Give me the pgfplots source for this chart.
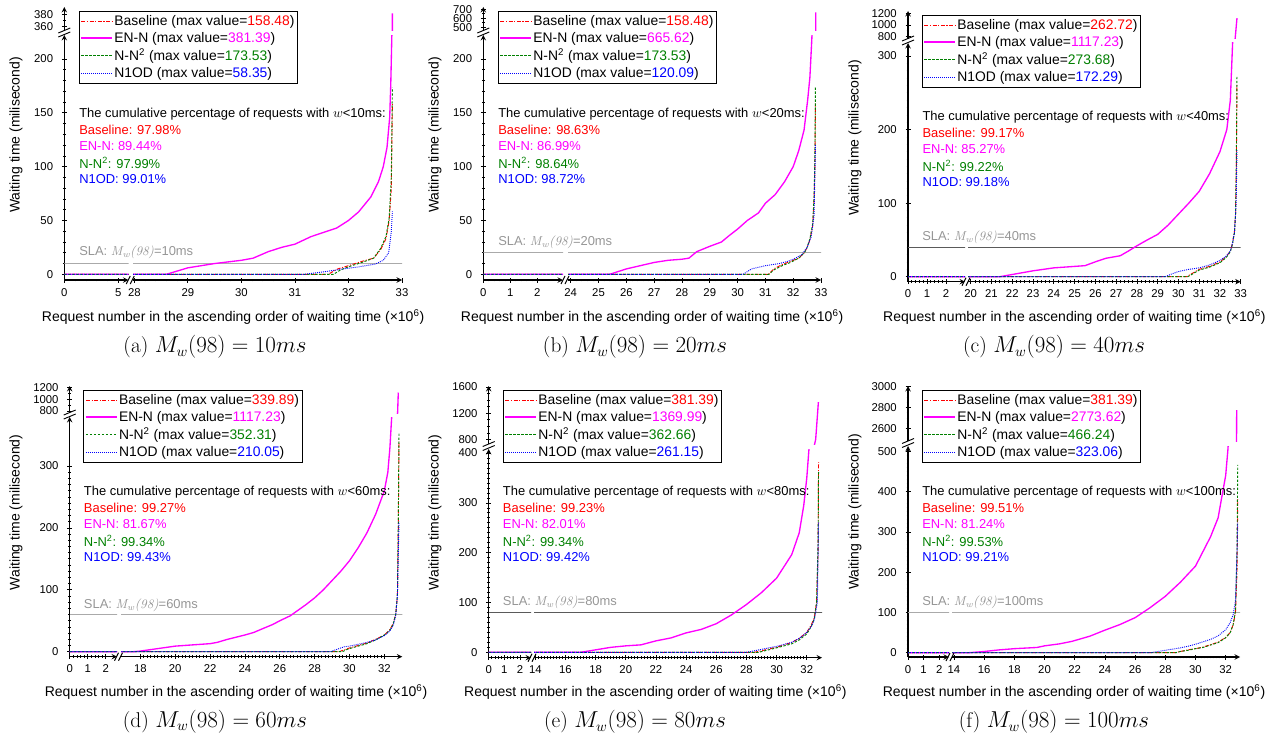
\documentclass[border=0pt]{standalone}
\usepackage[no-math]{fontspec}
\usepackage{pgfplots}
\usepackage{pgfplotstable}
\pgfplotsset{compat=1.18}
\newfontfamily\arial{Liberation Sans}
\newcommand\legfont{\arial\fontsize{10.4}{12}\selectfont}
\newcommand\annfont{\arial\fontsize{9.7}{11.5}\selectfont}
\newcommand\labfont{\arial\fontsize{10.5}{12}\selectfont}
\definecolor{cBase}{RGB}{255,0,0}
\definecolor{cEnn}{RGB}{255,0,255}
\definecolor{cNn}{RGB}{0,128,0}
\definecolor{cNod}{RGB}{0,0,255}
\definecolor{slaLight}{RGB}{170,170,170}
\definecolor{slaDark}{RGB}{90,90,90}
\definecolor{slaText}{RGB}{150,150,150}

\tikzset{
  lgbase/.style={draw=cBase, line width=0.8pt, dash pattern=on 3pt off 1.2pt on 0.8pt off 1.2pt},
  lgenn/.style={draw=cEnn, line width=1.1pt},
  lgnn/.style={draw=cNn, line width=0.8pt, dash pattern=on 1.8pt off 1.2pt},
  lgnod/.style={draw=cNod, line width=0.8pt, dash pattern=on 0.7pt off 0.8pt},
}
\pgfplotsset{
  basest/.style={color=cBase, draw=cBase, line width=0.7pt, dash pattern=on 3pt off 1.2pt on 0.8pt off 1.2pt},
  ennst/.style={color=cEnn, draw=cEnn, line width=1.0pt},
  nnst/.style={color=cNn, draw=cNn, line width=0.7pt, dash pattern=on 1.8pt off 1.2pt},
  nodst/.style={color=cNod, draw=cNod, line width=0.7pt, dash pattern=on 0.7pt off 0.8pt},
  brk/.style={scale only axis, anchor=south west, enlargelimits=false,
    axis line style={-, line width=0.8pt, black},
    tick align=outside, major tick length=3.75pt, minor tick length=2.2pt,
    tick style={black, line width=0.55pt},
    tick label style={font=\arial\fontsize{8.5}{10}\selectfont},
    xticklabel style={yshift=-0.8pt},
    yticklabel style={xshift=-3pt},
    /pgf/number format/assume math mode=true,
    /pgf/number format/1000 sep={},
  },
  legend image code/.code={\draw[#1] (0pt,0pt) -- (23pt,0pt);},
}

\pgfplotstableread{
x y
0 0
31.62 0
31.8 5
32.0 8
32.25 12
32.47 15
32.6 23
32.7 33
32.76 50
32.8 80
32.82 158.48
}\dataAbase
\pgfplotstableread{
x y
0 0
28.6 0
28.8 3
29.0 6
29.5 10
30.0 13
30.22 15
30.5 21
30.75 25
31.0 28
31.3 35
31.6 40
31.78 43
32.0 50
32.19 58
32.42 72
32.56 86
32.65 100
32.72 118
32.77 146
32.79 177
32.81 222
32.82 352
32.82 381.39
}\dataAenn
\pgfplotstableread{
x y
0 0
31.72 0
31.85 4
32.0 7
32.25 11
32.47 15
32.6 24
32.7 35
32.76 52
32.8 90
32.82 173.53
}\dataAnn
\pgfplotstableread{
x y
0 0
31.18 0
31.5 2
31.9 5
32.2 7
32.5 9.5
32.65 13
32.75 20
32.8 40
32.82 58.35
}\dataAnod
\pgfplotstableread{
x y
0 0
31.11 0
31.3 5
31.6 9
31.9 12
32.2 15
32.4 20
32.5 25
32.6 32
32.7 45
32.75 70
32.78 100
32.8 158.48
}\dataBbase
\pgfplotstableread{
x y
0 0
25.4 0
26.0 5
26.5 8
27.0 11
27.5 13
28.0 14
28.25 15
28.53 21
29.0 26
29.42 30
29.7 36
30.0 42
30.35 50
30.75 57
31.0 66
31.35 74
31.69 86
32.0 100
32.2 115
32.39 134
32.52 162
32.6 183
32.67 219
32.7 240
32.81 459
32.81 665.62
}\dataBenn
\pgfplotstableread{
x y
0 0
31.13 0
31.3 4
31.6 8
31.9 11
32.2 15
32.4 20
32.5 25
32.6 33
32.7 47
32.75 72
32.78 110
32.8 173.53
}\dataBnn
\pgfplotstableread{
x y
0 0
30.2 0
30.5 5
31.0 8
31.5 10
31.8 12
32.0 14
32.3 18
32.5 25
32.65 35
32.75 55
32.8 120.09
}\dataBnod
\pgfplotstableread{
x y
0 0
30.4 0
30.7 5
31 10
31.5 14
32 20
32.3 27
32.5 35
32.6 45
32.7 62
32.75 85
32.79 150
32.82 262.72
}\dataCbase
\pgfplotstableread{
x y
0 0
21.4 0
22 3
23 8
24 12
25 14
25.5 15
25.98 20
26.5 25
27.2 28.5
27.6 35
28 42
28.5 50
29 57.5
29.5 70
30 85
30.5 100
31 116
31.5 140
32 170
32.33 200
32.5 240
32.61 318
32.66 360
32.73 760
32.82 1117.23
}\dataCenn
\pgfplotstableread{
x y
0 0
30.45 0
30.7 4
31 9
31.5 13
32 19
32.3 26
32.5 34
32.6 44
32.7 60
32.75 85
32.79 160
32.82 273.68
}\dataCnn
\pgfplotstableread{
x y
0 0
29.36 0
29.7 4
30 7
30.5 10
31 12
31.5 16
32 22
32.3 28
32.5 35
32.6 45
32.7 60
32.78 100
32.82 172.29
}\dataCnod
\pgfplotstableread{
x y
0 0
29.4 0
29.7 3
30 6
30.5 10
31 14
31.5 20
32 27
32.3 35
32.5 45
32.65 60
32.75 90
32.8 200
32.84 339.89
}\dataDbase
\pgfplotstableread{
x y
0 0
17.6 0
18 1
19 5
20 9
21 11
22 13
22.4 15
23 20
24 27
24.5 31
25 37
25.6 44
26 50
26.6 58
27 66
27.5 76
28 87
28.5 100
29 115
29.5 130
30 147
30.5 168
31 192
31.5 222
32 260
32.2 290
32.32 330
32.42 379
32.45 395
32.76 766
32.8 1117.23
}\dataDenn
\pgfplotstableread{
x y
0 0
29.6 0
29.8 3
30 5
30.5 9
31 13
31.5 19
32 27
32.3 34
32.5 44
32.65 60
32.75 92
32.8 210
32.84 352.31
}\dataDnn
\pgfplotstableread{
x y
0 0
28.9 0
29.3 4
29.7 8
30 9
30.5 12
31 15
31.5 19
32 26
32.3 33
32.5 42
32.65 58
32.75 90
32.84 210.05
}\dataDnod
\pgfplotstableread{
x y
0 0
28.5 0
29 3
29.5 7
30 10
30.5 15
31 20
31.5 28
32 40
32.3 55
32.5 70
32.65 100
32.75 200
32.78 381.39
}\dataEbase
\pgfplotstableread{
x y
0 0
17 0
18 5
19 10
20 13
21 15
22 23
23 29
24 39
25 46
26 57.5
27 75
28 96
29 120
30 149
31 196
31.5 240
31.8 295
32.0 350
32.15 410
32.25 460
32.59 800
32.77 1369.99
}\dataEenn
\pgfplotstableread{
x y
0 0
28.8 0
29.2 3
30 9
30.5 13
31 17
31.5 25
32 37
32.3 52
32.5 68
32.65 100
32.75 220
32.78 362.66
}\dataEnn
\pgfplotstableread{
x y
0 0
28 0
28.5 3
29 6
29.5 9
30 12
30.5 16
31 20
31.5 28
32 40
32.3 52
32.5 65
32.7 100
32.78 261.15
}\dataEnod
\pgfplotstableread{
x y
0 0
28.67 0
29 3
29.5 7
30 10
30.5 14
31 20
31.5 26
32 38
32.3 50
32.5 70
32.65 100
32.75 200
32.8 381.39
}\dataFbase
\pgfplotstableread{
x y
0 0
15 0
16 3
17 7
18 10
19.5 13
20 17
21 22
21.8 28
23 41
24 56
25 70
26 87
27 112
28 140
29 175
30 215
31 288
31.5 335
31.75 388
32 440
32.15 505
32.2 540
32.72 2478
32.73 2773.62
}\dataFenn
\pgfplotstableread{
x y
0 0
28.7 0
29 3
29.5 6
30 10
30.5 13
31 19
31.5 25
32 37
32.3 50
32.5 70
32.65 105
32.75 250
32.8 466.24
}\dataFnn
\pgfplotstableread{
x y
0 0
27 0
27.5 3
28 6
28.5 9
29 12
29.5 16
30 21
30.5 27
31 33
31.5 42
32 57
32.3 75
32.5 95
32.65 130
32.75 250
32.8 323.06
}\dataFnod

\newcommand\plotT[2]{\expandafter\plotTi\csname data#2\endcsname{#1}}
\newcommand\plotTi[2]{\addplot[#2] table[x index=0,y index=1] {#1};}

\newcommand\Panel{%
  \pgfmathsetmacro\Lw{(\qLR-\qPX)*0.75}%
  \pgfmathsetmacro\Rw{(\qRR-\qRL)*0.75}%
  \pgfmathsetmacro\Hh{(\qPB-\qYT)*0.75}%
  \pgfmathsetmacro\Uw{(\qRR-\qPX)*0.75}%
  \pgfmathsetmacro\Uh{(\qUB-\qUT)*0.75}%
  \pgfmathsetmacro\Uxmin{\qRxMin-(\qRL-\qPX)*(\qRxMax-\qRxMin)/(\qRR-\qRL)}%
  \pgfmathsetmacro\legx{(\qLegX-\qRL)/(\qRR-\qRL)}%
  \pgfmathsetmacro\legy{(\qPB-\qLegY)/(\qPB-\qYT)}%
  \pgfmathsetmacro\axL{\qPX*0.75}%
  \pgfmathsetmacro\axR{\qRL*0.75}%
  \pgfmathsetmacro\axB{-\qPB*0.75}%
  \pgfmathsetmacro\axU{-\qUB*0.75}%
  \begin{axis}[brk, at={(\axL pt,\axB pt)}, width=\Lw pt, height=\Hh pt,
      xmin=0, xmax=\qLxMax, ymin=\qymn, ymax=\qymx,
      axis x line=bottom, axis y line=left, Lst]
    \addplot[color=\qslacol, line width=0.8pt, forget plot] coordinates {(0,\qSLA) (40,\qSLA)};
    \plotT{basest}{\qID base}
    \plotT{ennst}{\qID enn}
    \plotT{nnst}{\qID nn}
    \plotT{nodst}{\qID nod}
  \end{axis}
  \begin{axis}[brk, at={(\axL pt,\axU pt)}, width=\Uw pt, height=\Uh pt,
      xmin=\Uxmin, xmax=\qRxMax, ymin=\quymn, ymax=\quymx,
      axis x line=none, axis y line=left, xtick=\empty, Ust]
    \plotT{basest}{\qID base}
    \plotT{ennst}{\qID enn}
    \plotT{nnst}{\qID nn}
    \plotT{nodst}{\qID nod}
  \end{axis}
  \begin{axis}[brk, at={(\axR pt,\axB pt)}, width=\Rw pt, height=\Hh pt,
      xmin=\qRxMin, xmax=\qRxMax, ymin=\qymn, ymax=\qymx,
      axis x line=bottom, axis y line=none, ytick=\empty, Rst,
      legend cell align=left,
      legend style={at={(\legx,\legy)}, anchor=north west, draw=black, line width=0.8pt,
        fill=white, font=\legfont, inner xsep=1pt, inner ysep=1.5pt, row sep=1pt,
        nodes={inner xsep=1.3pt, inner ysep=1.3pt}}]
    \addplot[color=\qslacol, line width=0.8pt, forget plot] coordinates {(0,\qSLA) (40,\qSLA)};
    \addlegendimage{lgbase}
    \addlegendentry{\legfont Baseline (max value=\textcolor{cBase}{\qLegA})}
    \addlegendimage{lgenn}
    \addlegendentry{\legfont EN-N (max value=\textcolor{cEnn}{\qLegB})}
    \addlegendimage{lgnn}
    \addlegendentry{\legfont N-N\textsuperscript{2} (max value=\textcolor{cNn}{\qLegC})}
    \addlegendimage{lgnod}
    \addlegendentry{\legfont N1OD (max value=\textcolor{cNod}{\qLegD})}
    \plotT{basest, forget plot}{\qID base}
    \plotT{ennst, forget plot}{\qID enn}
    \plotT{nnst, forget plot}{\qID nn}
    \plotT{nodst, forget plot}{\qID nod}
  \end{axis}
  \begin{scope}[x=0.75pt,y=-0.75pt]
    \pgfmathsetmacro\ybm{(\qUB+\qYT)/2}%
    \pgfmathsetmacro\xbm{(\qLR+\qRL)/2}%
    \draw[line width=0.7pt] (\qPX-6,\ybm) -- (\qPX+6,\ybm-5);
    \draw[line width=0.7pt] (\qPX-6,\ybm+4) -- (\qPX+6,\ybm-1);
    \draw[line width=0.7pt] (\xbm-4.5,\qPB+4) -- (\xbm-0.5,\qPB-4);
    \draw[line width=0.7pt] (\xbm-0.5,\qPB+4) -- (\xbm+3.5,\qPB-4);
    \node[anchor=west, inner sep=0pt] at (\qAnX,\qAnY) {\annfont The cumulative percentage of requests with $w$<\qW ms:};
    \node[anchor=west, inner sep=0pt, text=cBase] at (\qAnX,\qAnY+16.2) {\annfont Baseline: \qPcA\%};
    \node[anchor=west, inner sep=0pt, text=cEnn] at (\qAnX,\qAnY+32.4) {\annfont EN-N: \qPcB\%};
    \node[anchor=west, inner sep=0pt, text=cNn] at (\qAnX,\qAnY+48.8) {\annfont N-N\textsuperscript{2}: \qPcC\%};
    \node[anchor=west, inner sep=0pt, text=cNod] at (\qAnX,\qAnY+65) {\annfont N1OD: \qPcD\%};
    \node[anchor=west, inner sep=0pt, text=slaText] at (\qSlX,\qSlY) {\annfont SLA: {\rmfamily\itshape M\textsubscript{w}(98)}=\qW ms};
    \node at ({(\qPX+\qRR)/2},\qXLy) {\labfont Request number in the ascending order of waiting time (×10\textsuperscript{6})};
    \node[rotate=90] at (\qYLx,\qYLy) {\labfont Waiting time (milisecond)};
    \node at (\qCapX,\qCapY) {\fontsize{16}{19}\selectfont\qCap\ $M_w(98) = \qW ms$};
  \end{scope}
}

\begin{document}
\begin{tikzpicture}
\begin{scope}[x=0.75pt,y=-0.75pt]
\useasboundingbox (0,0) rectangle (1273,735);
\end{scope}

\def\qID{A}
\def\qPX{64.3}\def\qPB{280}\def\qLR{128.5}\def\qRL{133}\def\qRR{402}
\def\qLxMax{5.95}\def\qRxMin{27.976}\def\qRxMax{33}
\def\qYT{35}\def\qymn{-5.3}\def\qymx{222.3}
\def\qUB{31}\def\qUT{7}\def\quymn{352.2}\def\quymx{392.2}
\def\qSLA{10}\def\qW{10}\def\qslacol{slaLight}
\def\qLegX{78.7}\def\qLegY{11}
\def\qLegA{158.48}\def\qLegB{381.39}\def\qLegC{173.53}\def\qLegD{58.35}
\def\qAnX{79}\def\qAnY{114}
\def\qPcA{97.98}\def\qPcB{89.44}\def\qPcC{97.99}\def\qPcD{99.01}
\def\qSlX{79}\def\qSlY{252.3}
\def\qXLy{316.7}\def\qYLx{16}\def\qYLy{135}
\def\qCapX{215}\def\qCapY{347}\def\qCap{(a)}
\pgfplotsset{Lst/.style={xtick={0,5}, minor x tick num=4, ytick={0,50,...,200}, minor y tick num=4},
  Rst/.style={xtick={28,...,33}, minor x tick num=4},
  Ust/.style={ytick={360,380}, minor y tick num=1}}
\Panel

\def\qID{B}
\def\qPX{483.3}\def\qPB{280}\def\qLR{563}\def\qRL{568}\def\qRR{821}
\def\qLxMax{2.95}\def\qRxMin{23.903}\def\qRxMax{33}
\def\qYT{35}\def\qymn{-5.3}\def\qymx{222.3}
\def\qUB{31}\def\qUT{7}\def\quymn{458.9}\def\quymx{725.6}
\def\qSLA{20}\def\qW{20}\def\qslacol{slaLight}
\def\qLegX{497.7}\def\qLegY{11}
\def\qLegA{158.48}\def\qLegB{665.62}\def\qLegC{173.53}\def\qLegD{120.09}
\def\qAnX{498}\def\qAnY{114}
\def\qPcA{98.63}\def\qPcB{86.99}\def\qPcC{98.64}\def\qPcD{98.72}
\def\qSlX{498}\def\qSlY{242.7}
\def\qXLy{316.7}\def\qYLx{435}\def\qYLy{135}
\def\qCapX{635}\def\qCapY{347}\def\qCap{(b)}
\pgfplotsset{Lst/.style={xtick={0,1,2}, minor x tick num=4, ytick={0,50,...,200}, minor y tick num=4},
  Rst/.style={xtick={24,...,33}, minor x tick num=4},
  Ust/.style={ytick={500,600,700}, minor y tick num=1}}
\Panel

\def\qID{C}
\def\qPX{908}\def\qPB{281.7}\def\qLR{965}\def\qRL{968}\def\qRR{1240.7}
\def\qLxMax{3.0}\def\qRxMin{19.87}\def\qRxMax{33}
\def\qYT{43}\def\qymn{-6.8}\def\qymx{317.7}
\def\qUB{39}\def\qUT{11}\def\quymn{760.7}\def\quymx{1239}
\def\qSLA{40}\def\qW{40}\def\qslacol{slaDark}
\def\qLegX{921.7}\def\qLegY{15}
\def\qLegA{262.72}\def\qLegB{1117.23}\def\qLegC{273.68}\def\qLegD{172.29}
\def\qAnX{922.3}\def\qAnY{116.7}
\def\qPcA{99.17}\def\qPcB{85.27}\def\qPcC{99.22}\def\qPcD{99.18}
\def\qSlX{922}\def\qSlY{237}
\def\qXLy{316.7}\def\qYLx{855}\def\qYLy{138}
\def\qCapX{1054}\def\qCapY{347}\def\qCap{(c)}
\pgfplotsset{Lst/.style={xtick={0,1,2}, minor x tick num=4, ytick={0,100,200,300}, minor y tick num=9},
  Rst/.style={xtick={20,...,33}, minor x tick num=4},
  Ust/.style={ytick={800,1000,1200}, minor y tick num=1}}
\Panel

\def\qID{D}
\def\qPX{69.7}\def\qPB{656.7}\def\qLR{117}\def\qRL{121}\def\qRR{402.3}
\def\qLxMax{2.63}\def\qRxMin{16.89}\def\qRxMax{33.03}
\def\qYT{417}\def\qymn{-8.1}\def\qymx{379.2}
\def\qUB{413}\def\qUT{386}\def\quymn{765.7}\def\quymx{1229}
\def\qSLA{60}\def\qW{60}\def\qslacol{slaLight}
\def\qLegX{83.3}\def\qLegY{390}
\def\qLegA{339.89}\def\qLegB{1117.23}\def\qLegC{352.31}\def\qLegD{210.05}
\def\qAnX{83.7}\def\qAnY{491.7}
\def\qPcA{99.27}\def\qPcB{81.67}\def\qPcC{99.34}\def\qPcD{99.43}
\def\qSlX{83.7}\def\qSlY{605}
\def\qXLy{691.7}\def\qYLx{16}\def\qYLy{512.5}
\def\qCapX{215}\def\qCapY{721.7}\def\qCap{(d)}
\pgfplotsset{Lst/.style={xtick={0,1,2}, minor x tick num=4, ytick={0,100,200,300}, minor y tick num=9},
  Rst/.style={xtick={18,20,...,32}, minor x tick num=9},
  Ust/.style={ytick={800,1000,1200}, minor y tick num=1}}
\Panel

\def\qID{E}
\def\qPX{488.7}\def\qPB{657.7}\def\qLR{531}\def\qRL{534}\def\qRR{822}
\def\qLxMax{2.7}\def\qRxMin{13.914}\def\qRxMax{33.01}
\def\qYT{449}\def\qymn{-10.8}\def\qymx{408.2}
\def\qUB{444}\def\qUT{386}\def\quymn{731.4}\def\quymx{1615.5}
\def\qSLA{80}\def\qW{80}\def\qslacol{slaDark}
\def\qLegX{502.7}\def\qLegY{390}
\def\qLegA{381.39}\def\qLegB{1369.99}\def\qLegC{362.66}\def\qLegD{261.15}
\def\qAnX{502.7}\def\qAnY{491.7}
\def\qPcA{99.23}\def\qPcB{82.01}\def\qPcC{99.34}\def\qPcD{99.42}
\def\qSlX{502.7}\def\qSlY{602.7}
\def\qXLy{691.7}\def\qYLx{435}\def\qYLy{512.5}
\def\qCapX{635}\def\qCapY{722}\def\qCap{(e)}
\pgfplotsset{Lst/.style={xtick={0,1,2}, minor x tick num=4, ytick={0,100,...,400}, minor y tick num=9},
  Rst/.style={xtick={14,16,...,32}, minor x tick num=9},
  Ust/.style={ytick={800,1200,1600}, minor y tick num=3}}
\Panel

\def\qID{F}
\def\qPX{908}\def\qPB{657}\def\qLR{949}\def\qRL{952}\def\qRR{1240}
\def\qLxMax{2.63}\def\qRxMin{13.87}\def\qRxMax{32.95}
\def\qYT{446}\def\qymn{-10.7}\def\qymx{513.2}
\def\qUB{441}\def\qUT{386}\def\quymn{2477.9}\def\quymx{3006.7}
\def\qSLA{100}\def\qW{100}\def\qslacol{slaLight}
\def\qLegX{921.7}\def\qLegY{390}
\def\qLegA{381.39}\def\qLegB{2773.62}\def\qLegC{466.24}\def\qLegD{323.06}
\def\qAnX{922}\def\qAnY{491.7}
\def\qPcA{99.51}\def\qPcB{81.24}\def\qPcC{99.53}\def\qPcD{99.21}
\def\qSlX{922}\def\qSlY{602.7}
\def\qXLy{691.7}\def\qYLx{855}\def\qYLy{512}
\def\qCapX{1054}\def\qCapY{722}\def\qCap{(f)}
\pgfplotsset{Lst/.style={xtick={0,1,2}, minor x tick num=4, ytick={0,100,...,500}, minor y tick num=9},
  Rst/.style={xtick={14,16,...,32}, minor x tick num=9},
  Ust/.style={ytick={2600,2800,3000}, minor y tick num=3}}
\Panel

\end{tikzpicture}
\end{document}
